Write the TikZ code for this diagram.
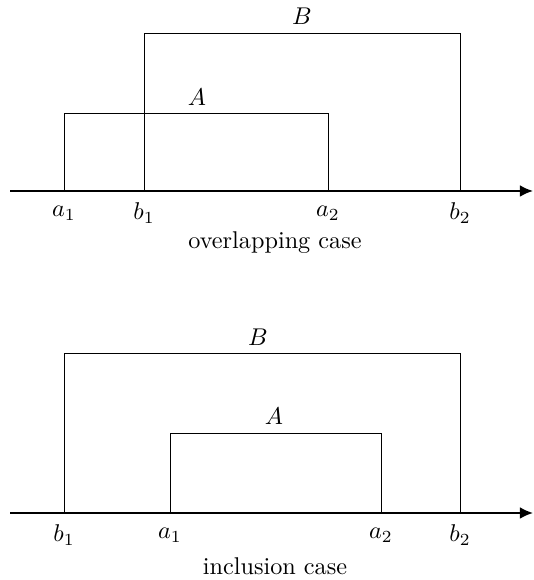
\documentclass[tikz,border=0pt]{standalone}
\usepackage{tikz}
\usetikzlibrary{arrows.meta,positioning}

\begin{document}
\begin{tikzpicture}[
  x=1.45mm,y=1.45mm,
  axis/.style={-{Latex[length=1.9mm,width=1.7mm]},line width=0.7pt},
  interval/.style={line width=0.4pt},
  endpt/.style={inner sep=1pt},
  caption/.style={inner sep=1pt}
]
\useasboundingbox (0,0) rectangle (53.3,58);
% overlapping case
\coordinate (ol) at (1,38.9);
\coordinate (or) at (53.3,38.9);
\coordinate (oa1) at (6.4,38.9);
\coordinate (ob1) at (14.4,38.9);
\coordinate (oa2) at (32.8,38.9);
\coordinate (ob2) at (46.0,38.9);
\draw[interval] (oa1) -- ++(0,7.8) coordinate (oat) -| (oa2);
\draw[interval] (ob1) -- ++(0,15.8) coordinate (obt) -| (ob2);
\draw[axis] (ol) -- (or);
\node[endpt] (la1) at (6.4,36.7) {$a_1$};
\node[endpt] (lb1) at (14.4,36.7) {$b_1$};
\node[endpt] (la2) at (32.8,36.7) {$a_2$};
\node[endpt] (lb2) at (46.0,36.7) {$b_2$};
\node (lA) at (19.7,48.3) {$A$};
\node (lB) at (30.2,56.4) {$B$};
\node[caption] (cap1) at (27.5,33.7) {overlapping case};
% inclusion case
\coordinate (il) at (1,6.7);
\coordinate (ir) at (53.3,6.7);
\coordinate (ib1) at (6.4,6.7);
\coordinate (ia1) at (17.0,6.7);
\coordinate (ia2) at (38.1,6.7);
\coordinate (ib2) at (46.0,6.7);
\draw[interval] (ib1) -- ++(0,16) coordinate (ibt) -| (ib2);
\draw[interval] (ia1) -- ++(0,8) coordinate (iat) -| (ia2);
\draw[axis] (il) -- (ir);
\node[endpt] (jb1) at (6.4,4.5) {$b_1$};
\node[endpt] (ja1) at (17.0,4.5) {$a_1$};
\node[endpt] (ja2) at (38.1,4.5) {$a_2$};
\node[endpt] (jb2) at (46.0,4.5) {$b_2$};
\node (jB) at (25.8,24.3) {$B$};
\node (jA) at (27.4,16.4) {$A$};
\node[caption] (cap2) at (27.5,1.4) {inclusion case};
\end{tikzpicture}
\end{document}
